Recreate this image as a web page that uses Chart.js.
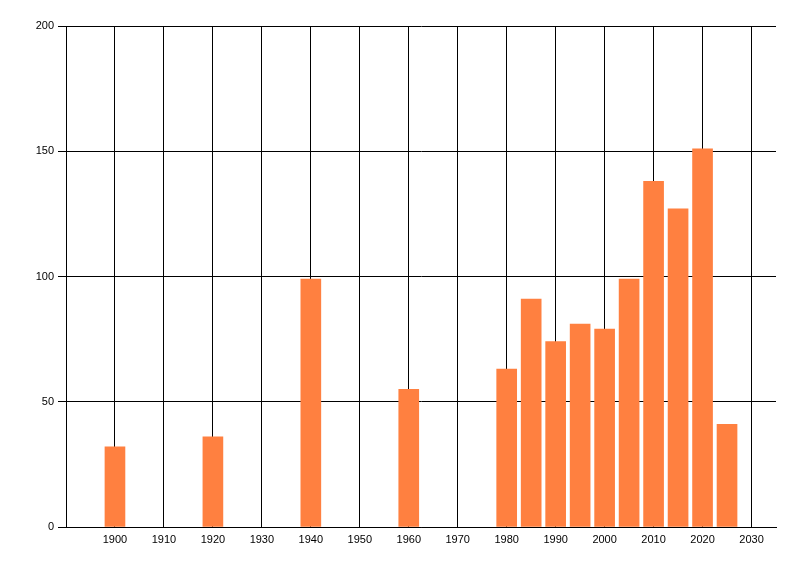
<!DOCTYPE html>
<html>
<head>
<meta charset="utf-8">
<script src="https://cdn.jsdelivr.net/npm/chart.js@4/dist/chart.umd.min.js"></script>
<style>
  html, body { margin: 0; padding: 0; background: #fff; }
  #wrap { width: 800px; height: 576px; }
</style>
</head>
<body>
<div id="wrap"><canvas id="yearsChart" width="800" height="576"></canvas></div>
<script>
// valores
const years = [1900, 1920, 1940, 1960, 1980, 1985, 1990, 1995, 2000, 2005, 2010, 2015, 2020, 2025];
const counts = [32, 36, 99, 55, 63, 91, 74, 81, 79, 99, 138, 127, 151, 41];
const xTicks = [1900, 1910, 1920, 1930, 1940, 1950, 1960, 1970, 1980, 1990, 2000, 2010, 2020, 2030];
const yTicks = [0, 50, 100, 150, 200];

const ctx = document.getElementById('yearsChart').getContext('2d');

new Chart(ctx, {
  type: 'bar',
  data: {
    datasets: [{
      data: years.map((y, i) => ({ x: y, y: counts[i] })),
      backgroundColor: '#ff8040',
      borderWidth: 0,
      barThickness: 20
    }]
  },
  options: {
    responsive: false,
    animation: false,
    layout: { padding: { top: 26, right: 24, left: 0, bottom: 0 } },
    plugins: {
      legend: { display: false },
      tooltip: { enabled: false }
    },
    scales: {
      x: {
        type: 'linear',
        min: 1890,
        max: 2035,
        offset: false,
        afterBuildTicks: (scale) => {
          scale.ticks = xTicks.map(v => ({ value: v }));
        },
        afterFit: (scale) => { scale.height = 49; },
        grid: {
          color: '#000',
          lineWidth: 1,
          offset: false,
          drawTicks: false
        },
        border: { color: '#000', width: 1 },
        ticks: {
          color: '#000',
          padding: 6,
          maxRotation: 0,
          autoSkip: false,
          font: { family: 'Liberation Sans', size: 11 },
          callback: (v) => String(v)
        }
      },
      y: {
        min: 0,
        max: 200,
        afterBuildTicks: (scale) => {
          scale.ticks = yTicks.map(v => ({ value: v }));
        },
        afterFit: (scale) => { scale.width = 66; },
        grid: {
          color: '#000',
          lineWidth: 1,
          tickLength: 8
        },
        border: { color: '#000', width: 1 },
        ticks: {
          color: '#000',
          padding: 4,
          font: { family: 'Liberation Sans', size: 11 }
        }
      }
    }
  }
});
</script>
</body>
</html>
